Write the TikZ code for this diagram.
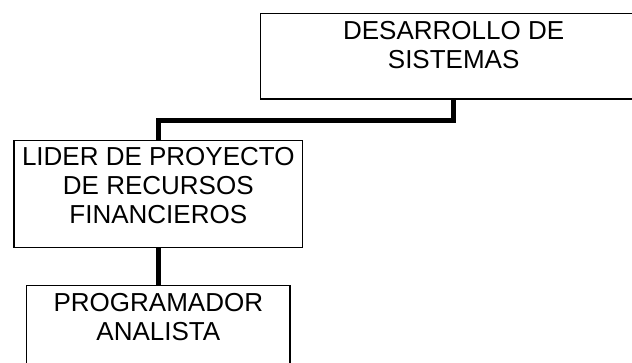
\documentclass[tikz,border=0pt]{standalone}
\usepackage{fontspec}
\setmainfont{Liberation Sans}
\usepackage{tikz}
\usetikzlibrary{positioning}

\begin{document}
\begin{tikzpicture}[x=1pt,y=-1pt,line join=miter,
  unitbox/.style={draw=black,line width=1.3pt,fill=white,inner sep=0pt},
  unittext/.style={inner sep=0pt,align=center,font=\fontsize{26}{29}\selectfont},
  link/.style={draw=black,line width=5.5pt}]
  % page frame, boxes run past the right and lower edges
  \useasboundingbox (0,0) rectangle (632,363);
  \clip (0,0) rectangle (632,363);
  \node[unitbox,anchor=north west,minimum width=386,minimum height=85.6] (desarrollo) at (260,12.7) {};
  \node[unitbox,anchor=north west,minimum width=288.7,minimum height=106.7] (lider) at (13.3,140) {};
  \node[unitbox,anchor=north west,minimum width=263.3,minimum height=86] (programador) at (26,285) {};
  \node[unittext,below=8.3pt of desarrollo.north] {DESARROLLO DE\\SISTEMAS};
  \node[unittext,below=7.3pt of lider.north] {LIDER DE PROYECTO\\DE RECURSOS\\FINANCIEROS};
  \node[unittext,below=8.3pt of programador.north] {PROGRAMADOR\\ANALISTA};
  \draw[link] (desarrollo.south) -- ++(0,21) -| (lider.north);
  \draw[link] (lider.south) -- (programador.north);
\end{tikzpicture}
\end{document}
